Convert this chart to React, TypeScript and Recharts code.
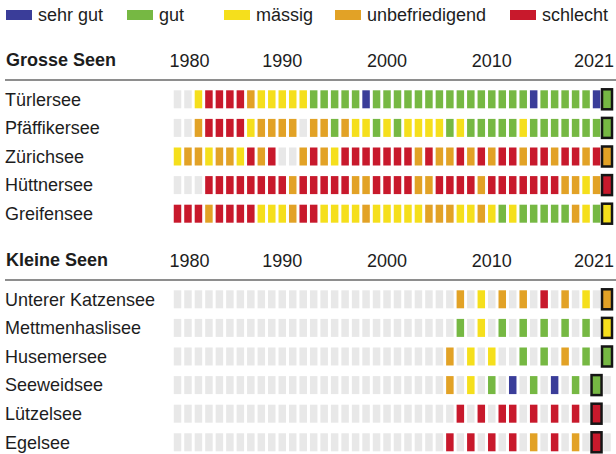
import React from 'react'
import { ScatterChart, Scatter, XAxis, YAxis } from 'recharts'

const firstYear = 1980
const yearTicks = [1980, 1990, 2000, 2010, 2021]

const categories = ['sehr gut', 'gut', 'mässig', 'unbefriedigend', 'schlecht']
// index 0 = keine Messung, 1..5 = categories above
const categoryColors = ['#e8e8e8', '#3a3d99', '#76b843', '#f5df1c', '#e2a226', '#c8192c']
const legendX = [6, 127, 224, 335, 510]

// one value per year 1980..2021
const grosseSeen = ['Türlersee', 'Pfäffikersee', 'Zürichsee', 'Hüttnersee', 'Greifensee']
const tuerlersee = [0, 0, 3, 5, 5, 5, 5, 4, 3, 3, 3, 3, 3, 2, 2, 2, 2, 2, 1, 2, 2, 2, 2, 2, 2, 2, 2, 2, 2, 2, 2, 2, 2, 2, 1, 2, 2, 2, 2, 2, 1, 2]
const pfaeffikersee = [0, 0, 4, 5, 5, 5, 5, 3, 4, 4, 4, 4, 0, 4, 4, 2, 4, 3, 3, 2, 3, 2, 3, 3, 3, 3, 2, 3, 2, 2, 2, 2, 2, 3, 2, 2, 2, 2, 2, 2, 2, 2]
const zuerichsee = [3, 4, 4, 3, 4, 4, 3, 5, 4, 5, 0, 0, 4, 5, 4, 3, 5, 5, 5, 5, 5, 5, 5, 4, 5, 4, 4, 5, 4, 5, 4, 5, 5, 4, 5, 5, 4, 5, 5, 4, 5, 4]
const huettnersee = [0, 0, 0, 5, 5, 5, 5, 5, 5, 5, 5, 4, 5, 5, 5, 5, 5, 4, 4, 5, 5, 5, 5, 4, 4, 5, 5, 5, 5, 4, 5, 5, 5, 5, 5, 5, 5, 4, 4, 3, 4, 5]
const greifensee = [5, 5, 5, 4, 5, 5, 5, 5, 3, 3, 3, 4, 5, 5, 3, 3, 3, 3, 4, 3, 3, 3, 3, 3, 4, 4, 4, 3, 3, 4, 3, 2, 3, 2, 2, 2, 2, 2, 4, 3, 2, 3]
const grosseValues = [tuerlersee, pfaeffikersee, zuerichsee, huettnersee, greifensee]

const kleineSeen = ['Unterer Katzensee', 'Mettmenhaslisee', 'Husemersee', 'Seeweidsee', 'Lützelsee', 'Egelsee']
const untererKatzensee = [0, 0, 0, 0, 0, 0, 0, 0, 0, 0, 0, 0, 0, 0, 0, 0, 0, 0, 0, 0, 0, 0, 0, 0, 0, 0, 0, 4, 0, 3, 0, 4, 0, 4, 0, 5, 0, 4, 0, 3, 0, 4]
const mettmenhaslisee = [0, 0, 0, 0, 0, 0, 0, 0, 0, 0, 0, 0, 0, 0, 0, 0, 0, 0, 0, 0, 0, 0, 0, 0, 0, 0, 0, 2, 0, 3, 0, 2, 0, 2, 0, 2, 0, 2, 0, 2, 0, 3]
const husemersee = [0, 0, 0, 0, 0, 0, 0, 0, 0, 0, 0, 0, 0, 0, 0, 0, 0, 0, 0, 0, 0, 0, 0, 0, 0, 0, 4, 0, 3, 0, 3, 0, 0, 2, 0, 2, 0, 4, 0, 2, 0, 2]
const seeweidsee = [0, 0, 0, 0, 0, 0, 0, 0, 0, 0, 0, 0, 0, 0, 0, 0, 0, 0, 0, 0, 0, 0, 0, 0, 0, 0, 4, 0, 3, 0, 2, 0, 1, 0, 2, 0, 1, 0, 2, 0, 2, 0]
const luetzelsee = [0, 0, 0, 0, 0, 0, 0, 0, 0, 0, 0, 0, 0, 0, 0, 0, 0, 0, 0, 0, 0, 0, 0, 0, 0, 0, 0, 5, 0, 5, 0, 5, 5, 0, 5, 0, 5, 0, 5, 0, 5, 0]
const egelsee = [0, 0, 0, 0, 0, 0, 0, 0, 0, 0, 0, 0, 0, 0, 0, 0, 0, 0, 0, 0, 0, 0, 0, 0, 0, 0, 5, 0, 5, 0, 5, 0, 5, 0, 4, 0, 5, 0, 4, 0, 5, 0]
const kleineValues = [untererKatzensee, mettmenhaslisee, husemersee, seeweidsee, luetzelsee, egelsee]

type Cell = { year: number; row: number; v: number; latest: boolean }

// flatten rows into one point per lake/year, marking the last measured year
function toCells(rows: number[][]): Cell[] {
  const out: Cell[] = []
  rows.forEach((vals, row) => {
    let last = -1
    vals.forEach((v, i) => { if (v > 0) last = i })
    vals.forEach((v, i) => out.push({ year: firstYear + i, row, v, latest: i === last }))
  })
  return out
}

const TEXT = '#1d1d1d'
const ROW_H = 28.6

const CellShape = (props: any) => {
  const { cx, cy, payload } = props
  return <rect x={cx - 3.75} y={cy - 9} width={7.5} height={18} fill={categoryColors[payload.v]} />
}

const LatestShape = (props: any) => {
  const { cx, cy, payload } = props
  return (
    <rect x={cx - 5} y={cy - 10} width={10} height={20} fill={categoryColors[payload.v]}
      stroke="#151515" strokeWidth={2.5} />
  )
}

const YearTick = (props: any) => {
  const { x, y, payload, index } = props
  const last = index === yearTicks.length - 1
  const anchor = index === 0 ? 'start' : last ? 'end' : 'middle'
  const dx = index === 0 ? -8 : last ? 7 : 0
  return (
    <text x={x + dx} y={y} dy={-10} textAnchor={anchor} fontSize={18} fill={TEXT}>
      {payload.value}
    </text>
  )
}

const LakeGroup = ({ title, names, rows, top }: { title: string; names: string[]; rows: number[][]; top: number }) => {
  const cells = toCells(rows)
  const latest = cells.filter(c => c.latest)
  const height = 44 + names.length * ROW_H + 2
  const LakeTick = (props: any) => (
    <text x={5} y={props.y} dy="0.35em" textAnchor="start" fontSize={18} fill={TEXT}>
      {names[props.payload.value]}
    </text>
  )
  return (
    <div style={{ position: 'absolute', left: 0, top, width: 616, height }}>
      <div style={{ position: 'absolute', left: 6, top: 8, lineHeight: '22px', fontSize: 18, fontWeight: 700, color: TEXT }}>
        {title}
      </div>
      <div style={{ position: 'absolute', left: 5, top: 38.5, width: 611, height: 2, background: '#8e8e8e' }} />
      <ScatterChart width={616} height={height} margin={{ top: 14, right: 3.74, bottom: 2, left: 0 }}>
        <XAxis type="number" dataKey="year" orientation="top" domain={[1979.5, 2021.5]} ticks={yearTicks}
          interval={0} axisLine={false} tickLine={false} height={30} tick={<YearTick />} />
        <YAxis type="number" dataKey="row" domain={[-0.5, names.length - 0.5]} reversed
          ticks={names.map((_, i) => i)} interval={0} axisLine={false} tickLine={false} width={172.26} tick={<LakeTick />} />
        <Scatter data={cells} shape={<CellShape />} isAnimationActive={false} />
        <Scatter data={latest} shape={<LatestShape />} isAnimationActive={false} />
      </ScatterChart>
    </div>
  )
}

export default function App() {
  return (
    <div style={{ position: 'absolute', left: 0, top: 0, width: 616, height: 454, overflow: 'hidden', background: '#fff',
      fontFamily: '"Liberation Sans", Arial, sans-serif', color: TEXT }}>
      {categories.map((c, i) => (
        <div key={c} style={{ position: 'absolute', left: legendX[i], top: 4, height: 22, display: 'flex', alignItems: 'center' }}>
          <span style={{ display: 'inline-block', width: 26, height: 10, background: categoryColors[i + 1], marginRight: 6 }} />
          <span style={{ fontSize: 18 }}>{c}</span>
        </div>
      ))}
      <LakeGroup title="Grosse Seen" names={grosseSeen} rows={grosseValues} top={40.7} />
      <LakeGroup title="Kleine Seen" names={kleineSeen} rows={kleineValues} top={240.7} />
    </div>
  )
}
